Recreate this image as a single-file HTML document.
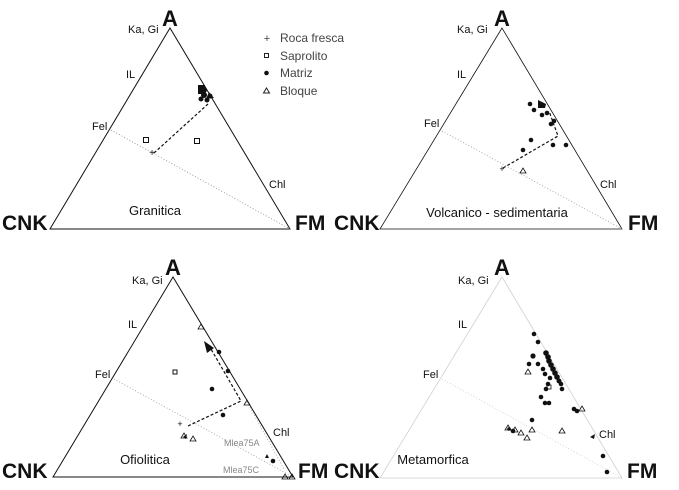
<!DOCTYPE html>
<html><head><meta charset="utf-8"><style>
html,body{margin:0;padding:0;background:#fff}
svg{display:block}
text{font-family:"Liberation Sans",Arial,sans-serif}
</style></head><body>
<svg width="679" height="490" viewBox="0 0 679 490" xmlns="http://www.w3.org/2000/svg">
<g fill="#111">
<!-- Panel 1 -->
<polygon points="170,28 50,229 290,229" fill="none" stroke="#111" stroke-width="1"/>
<line x1="111" y1="130" x2="290" y2="229" stroke="#888" stroke-width="0.8" stroke-dasharray="1,2"/>
<polyline points="154,153 208,104" fill="none" stroke="#111" stroke-width="1.2" stroke-dasharray="3,2"/>
<text x="170" y="26" font-size="22" font-weight="bold" text-anchor="middle">A</text>
<text x="2" y="230" font-size="21" font-weight="bold">CNK</text>
<text x="295" y="230" font-size="21" font-weight="bold">FM</text>
<text x="128" y="33" font-size="11">Ka, Gi</text>
<text x="126" y="78" font-size="11">IL</text>
<text x="92" y="130" font-size="11">Fel</text>
<text x="269" y="188" font-size="11">Chl</text>
<text x="155" y="215" font-size="13" text-anchor="middle">Granitica</text>
<text x="152" y="156" font-size="10" text-anchor="middle">+</text>
<rect x="143.5" y="137.5" width="5" height="5" fill="none" stroke="#111"/>
<rect x="194.5" y="138.5" width="5" height="5" fill="none" stroke="#111"/>
<rect x="198" y="85" width="7" height="9"/>
<circle cx="204" cy="95" r="3"/><circle cx="201" cy="99" r="2.5"/><circle cx="207" cy="100" r="2.5"/><circle cx="210" cy="96" r="2.5"/><circle cx="204" cy="90" r="3"/>
<polygon points="209,92 214,98 206,99"/>
<!-- legend -->
<g fill="#444" font-size="12">
<text x="267" y="42" text-anchor="middle" font-size="11">+</text><text x="280" y="42">Roca fresca</text>
<rect x="264.5" y="53.5" width="4" height="4" fill="none" stroke="#222"/><text x="280" y="60">Saprolito</text>
<circle cx="266.5" cy="73" r="2.3" fill="#111"/><text x="280" y="77">Matriz</text>
<polygon points="266.5,88 269.5,93 263.5,93" fill="none" stroke="#222"/><text x="280" y="95">Bloque</text>
</g>

<!-- Panel 2 -->
<polygon points="502,28 380,229 622,229" fill="none" stroke="#111" stroke-width="0.8"/>
<line x1="442" y1="131" x2="622" y2="229" stroke="#999" stroke-width="0.8" stroke-dasharray="1,2"/>
<polyline points="503,168 558,136 549,111" fill="none" stroke="#111" stroke-width="1.2" stroke-dasharray="3,2"/>
<text x="502" y="26" font-size="22" font-weight="bold" text-anchor="middle">A</text>
<text x="334" y="230" font-size="21" font-weight="bold">CNK</text>
<text x="628" y="230" font-size="21" font-weight="bold">FM</text>
<text x="457" y="33" font-size="11">Ka, Gi</text>
<text x="457" y="78" font-size="11">IL</text>
<text x="424" y="127" font-size="11">Fel</text>
<text x="600" y="188" font-size="11">Chl</text>
<text x="497" y="217" font-size="13" text-anchor="middle">Volcanico - sedimentaria</text>
<text x="502" y="172" font-size="9" text-anchor="middle">+</text>
<polygon points="523,168 526,173 520,173" fill="none" stroke="#111" stroke-width="0.8"/>
<polygon points="538,100 546,104 545,108 538,108"/>
<circle cx="530" cy="104" r="2.3"/><circle cx="534" cy="110" r="2.3"/><circle cx="542" cy="115" r="2.3"/><circle cx="547" cy="113" r="2.3"/><circle cx="551" cy="124" r="2.3"/><circle cx="554" cy="121" r="2.3"/><circle cx="531" cy="140" r="2.3"/><circle cx="523" cy="150" r="2.3"/><circle cx="553" cy="145" r="2.3"/><circle cx="566" cy="145" r="2.3"/>

<!-- Panel 3 -->
<polygon points="173,277 53,477 293,477" fill="none" stroke="#111" stroke-width="1"/>
<line x1="114" y1="379" x2="293" y2="477" stroke="#999" stroke-width="0.8" stroke-dasharray="1,2"/>
<polyline points="247,402 284,469" fill="none" stroke="#999" stroke-width="0.8" stroke-dasharray="1,2"/>
<polyline points="188,426 241,401 211,349" fill="none" stroke="#111" stroke-width="1.2" stroke-dasharray="3,2"/>
<polygon points="204,341 214,348 207,353"/>
<text x="173" y="275" font-size="22" font-weight="bold" text-anchor="middle">A</text>
<text x="2" y="478" font-size="21" font-weight="bold">CNK</text>
<text x="298" y="478" font-size="21" font-weight="bold">FM</text>
<text x="132" y="284" font-size="11">Ka, Gi</text>
<text x="128" y="328" font-size="11">IL</text>
<text x="95" y="378" font-size="11">Fel</text>
<text x="273" y="436" font-size="11">Chl</text>
<text x="145" y="464" font-size="13" text-anchor="middle">Ofiolitica</text>
<text x="224" y="446" font-size="9" fill="#888">Mlea75A</text>
<text x="223" y="473" font-size="9" fill="#888">Mlea75C</text>
<text x="180" y="427" font-size="9" text-anchor="middle">+</text>
<rect x="173" y="370" width="4" height="4" fill="none" stroke="#111"/>
<circle cx="219" cy="352" r="2.3"/><circle cx="228" cy="371" r="2.3"/><circle cx="212" cy="389" r="2.3"/><circle cx="223" cy="415" r="2.3"/><circle cx="273" cy="461" r="2.3"/>
<g fill="none" stroke="#111" stroke-width="0.8">
<polygon points="201,324 204,329 198,329"/><polygon points="247,400 250,405 244,405"/><polygon points="184,433 187,438 181,438"/><polygon points="193,436 196,441 190,441"/><polygon points="285,474 288,479 282,479"/><polygon points="292,474 295,479 289,479"/>
</g>
<polygon points="267,454 269,458 265,458"/><polygon points="183,437 187,434 186,439"/>

<!-- Panel 4 -->
<polygon points="502,277 380,478 622,478" fill="none" stroke="#d0d0d0" stroke-width="0.8"/>
<line x1="442" y1="379" x2="622" y2="478" stroke="#ccc" stroke-width="0.8" stroke-dasharray="1,2"/>
<text x="502" y="275" font-size="22" font-weight="bold" text-anchor="middle">A</text>
<text x="334" y="478" font-size="21" font-weight="bold">CNK</text>
<text x="627" y="478" font-size="21" font-weight="bold">FM</text>
<text x="458" y="284" font-size="11">Ka, Gi</text>
<text x="458" y="328" font-size="11">IL</text>
<text x="423" y="378" font-size="11">Fel</text>
<text x="599" y="438" font-size="11">Chl</text>
<text x="433" y="464" font-size="13" text-anchor="middle">Metamorfica</text>
<g>
<circle cx="534" cy="334" r="2.3"/><circle cx="538" cy="342" r="2.3"/><circle cx="533" cy="356" r="2.6"/><circle cx="529" cy="364" r="2.3"/><circle cx="538" cy="364" r="2.3"/><circle cx="543" cy="369" r="2.3"/>
<circle cx="546" cy="353" r="2.8"/><circle cx="548" cy="357" r="2.8"/><circle cx="549" cy="361" r="2.8"/><circle cx="551" cy="365" r="2.8"/><circle cx="553" cy="369" r="2.8"/><circle cx="555" cy="373" r="2.8"/><circle cx="557" cy="377" r="2.8"/><circle cx="559" cy="381" r="2.5"/><circle cx="545" cy="374" r="2.3"/><circle cx="550" cy="378" r="2.3"/>
<circle cx="548" cy="384" r="2.3"/><circle cx="546" cy="389" r="2.3"/><circle cx="561" cy="384" r="2.3"/><circle cx="562" cy="389" r="2.3"/><circle cx="541" cy="397" r="2.3"/><circle cx="545" cy="403" r="2.3"/><circle cx="549" cy="403" r="2.3"/>
<circle cx="574" cy="409" r="2.3"/><circle cx="577" cy="411" r="2.3"/><circle cx="532" cy="420" r="2.3"/><circle cx="603" cy="456" r="2.3"/><circle cx="607" cy="472" r="2.3"/>
<circle cx="513" cy="431" r="2.3"/><circle cx="509" cy="429" r="1.8"/>
</g>
<g fill="none" stroke="#111" stroke-width="0.8">
<rect x="547" y="385" width="4" height="4"/>
<polygon points="528,369 531,374 525,374"/><polygon points="582,406 585,411 579,411"/><polygon points="508,425 511,430 505,430"/><polygon points="515,427 518,432 512,432"/><polygon points="521,430 524,435 518,435"/><polygon points="532,427 535,432 529,432"/><polygon points="527,435 530,440 524,440"/><polygon points="562,428 565,433 559,433"/>
</g>
<polygon points="590,437 595,434 594,439"/>
</g>
</svg>
</body></html>
